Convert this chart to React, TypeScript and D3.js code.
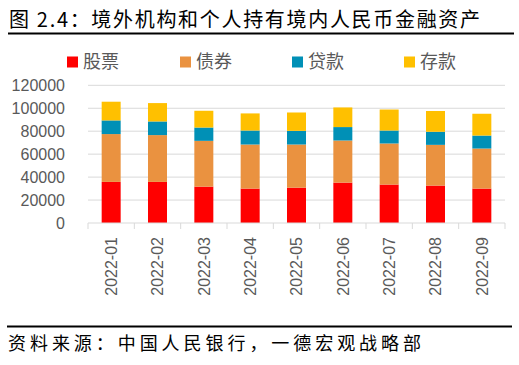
import { useEffect, useRef } from "react";
import * as d3 from "d3";

const months = [
  "2022-01", "2022-02", "2022-03", "2022-04", "2022-05",
  "2022-06", "2022-07", "2022-08", "2022-09",
];
const stocks = [35800, 35800, 31700, 30000, 30800, 35200, 33500, 32600, 30000];
const bonds = [41700, 40800, 39900, 38400, 37600, 36700, 35800, 35500, 34900];
const loans = [11900, 11900, 11600, 12200, 11900, 11700, 11300, 11400, 11300];
const deposits = [16300, 16000, 14600, 14900, 16000, 17100, 18300, 18100, 19000];

const seriesNames = ["股票", "债券", "贷款", "存款"];
const seriesColors = ["#FF0000", "#EA9240", "#0090B6", "#FFC000"];
const yTicks = [0, 20000, 40000, 60000, 80000, 100000, 120000];

const titleText = "图 2.4：境外机构和个人持有境内人民币金融资产";
const sourceText = "资料来源：中国人民银行，一德宏观战略部";

const W = 519;
const H = 365;
const CJK = "'Noto Sans CJK SC', sans-serif";
const NUM = "'Liberation Sans', Arial, sans-serif";

export default function App() {
  const svgRef = useRef<SVGSVGElement>(null);

  useEffect(() => {
    document.body.style.margin = "0";
    const svg = d3.select(svgRef.current);
    if (!svgRef.current) return;
    svg.selectAll("*").remove();

    // Header
    svg.append("text")
      .attr("x", 9)
      .attr("y", 27)
      .attr("font-family", CJK)
      .attr("font-size", "20px")
      .attr("fill", "#000")
      .attr("textLength", 471)
      .attr("lengthAdjust", "spacing")
      .text(titleText);
    svg.append("line")
      .attr("x1", 8).attr("x2", 514)
      .attr("y1", 33.5).attr("y2", 33.5)
      .attr("stroke", "#000")
      .attr("stroke-width", 2);

    const x = d3.scaleBand<string>().domain(months).range([88, 505]).padding(0);
    const y = d3.scaleLinear().domain([0, 120000]).range([223, 85.3]);
    const barW = x.bandwidth() * 0.41;

    // Grid lines
    yTicks.slice(1).forEach((t) => {
      svg.append("line")
        .attr("x1", 88).attr("x2", 505)
        .attr("y1", y(t)).attr("y2", y(t))
        .attr("stroke", "#D9D9D9")
        .attr("stroke-width", 1);
    });

    // Y labels
    yTicks.forEach((t) => {
      svg.append("text")
        .attr("x", 65)
        .attr("y", y(t))
        .attr("dy", "0.36em")
        .attr("text-anchor", "end")
        .attr("font-family", NUM)
        .attr("font-size", "16px")
        .attr("fill", "#595959")
        .text(String(t));
    });

    // Stacked bars
    const rows = months.map((m, i) => ({
      month: m,
      s0: stocks[i],
      s1: bonds[i],
      s2: loans[i],
      s3: deposits[i],
    }));
    const stacked = d3.stack<any>().keys(["s0", "s1", "s2", "s3"])(rows);
    stacked.forEach((layer, li) => {
      svg.append("g")
        .selectAll("rect")
        .data(layer)
        .join("rect")
        .attr("x", (d: any) => (x(d.data.month) as number) + (x.bandwidth() - barW) / 2)
        .attr("y", (d) => y(d[1]))
        .attr("width", barW)
        .attr("height", (d) => y(d[0]) - y(d[1]))
        .attr("fill", seriesColors[li]);
    });

    // X axis
    const axis = svg.append("g").attr("transform", "translate(0,223)");
    axis.append("line")
      .attr("x1", 88).attr("x2", 505)
      .attr("y1", 0).attr("y2", 0)
      .attr("stroke", "#D9D9D9");
    [...months.map((m) => x(m) as number), 505].forEach((tx) => {
      axis.append("line")
        .attr("x1", tx).attr("x2", tx)
        .attr("y1", 0).attr("y2", 6)
        .attr("stroke", "#D9D9D9");
    });
    months.forEach((m) => {
      const cx = (x(m) as number) + x.bandwidth() / 2;
      axis.append("text")
        .attr("transform", `translate(${cx},14) rotate(-90)`)
        .attr("text-anchor", "end")
        .attr("dy", "0.36em")
        .attr("font-family", NUM)
        .attr("font-size", "16px")
        .attr("fill", "#595959")
        .text(m);
    });

    // Legend
    const legendX = [67, 180, 292, 404];
    seriesNames.forEach((name, i) => {
      svg.append("rect")
        .attr("x", legendX[i])
        .attr("y", 56.5)
        .attr("width", 11)
        .attr("height", 11)
        .attr("fill", seriesColors[i]);
      svg.append("text")
        .attr("x", legendX[i] + 16)
        .attr("y", 62)
        .attr("dy", "0.36em")
        .attr("font-family", CJK)
        .attr("font-size", "18px")
        .attr("fill", "#595959")
        .text(name);
    });

    // Footer
    svg.append("line")
      .attr("x1", 7).attr("x2", 512)
      .attr("y1", 326.5).attr("y2", 326.5)
      .attr("stroke", "#000")
      .attr("stroke-width", 2);
    svg.append("text")
      .attr("x", 8)
      .attr("y", 350)
      .attr("font-family", CJK)
      .attr("font-size", "18px")
      .attr("fill", "#000")
      .attr("textLength", 413)
      .attr("lengthAdjust", "spacing")
      .text(sourceText);
  }, []);

  return (
    <svg
      ref={svgRef}
      width={W}
      height={H}
      style={{ display: "block", background: "#fff" }}
    />
  );
}
